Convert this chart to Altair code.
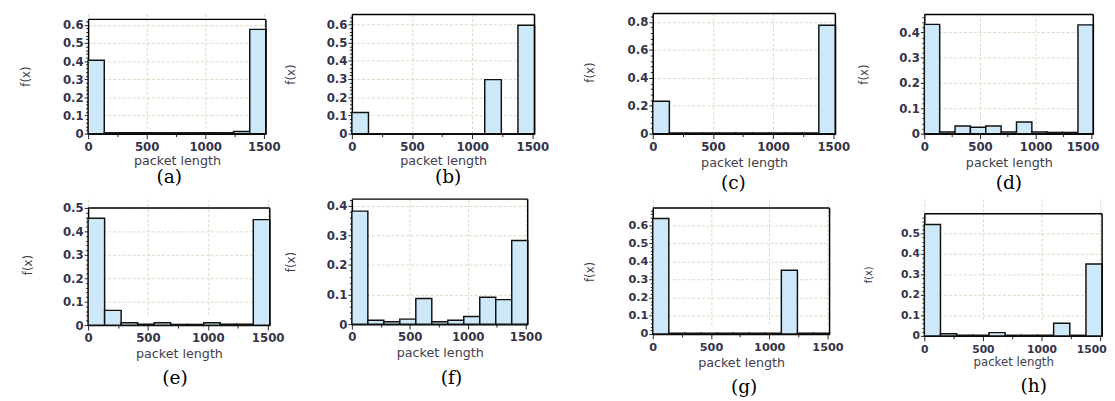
import altair as alt
import pandas as pd

# ---------------- data ----------------
bin_edges = [0, 138, 276, 414, 552, 690, 828, 966, 1104, 1242, 1380, 1518]

f_a = [0.405, 0.005, 0.005, 0.005, 0.005, 0.005, 0.005, 0.005, 0.005, 0.012, 0.575]
f_b = [0.116, 0.0, 0.0, 0.0, 0.0, 0.0, 0.0, 0.0, 0.297, 0.0, 0.596]
f_c = [0.232, 0.005, 0.005, 0.005, 0.005, 0.005, 0.005, 0.005, 0.005, 0.005, 0.776]
f_d = [0.432, 0.007, 0.030, 0.025, 0.030, 0.007, 0.046, 0.007, 0.005, 0.005, 0.430]
f_e = [0.456, 0.063, 0.010, 0.004, 0.010, 0.003, 0.003, 0.010, 0.004, 0.004, 0.450]
f_f = [0.382, 0.013, 0.008, 0.017, 0.087, 0.008, 0.013, 0.026, 0.091, 0.083, 0.283]
f_g = [0.637, 0.004, 0.004, 0.004, 0.004, 0.004, 0.004, 0.004, 0.351, 0.004, 0.004]
f_h = [0.545, 0.010, 0.003, 0.003, 0.016, 0.003, 0.003, 0.003, 0.062, 0.003, 0.351]

series = [f_a, f_b, f_c, f_d, f_e, f_f, f_g, f_h]
captions = ["(a)", "(b)", "(c)", "(d)", "(e)", "(f)", "(g)", "(h)"]
y_max = [0.63, 0.655, 0.86, 0.471, 0.50, 0.4226, 0.695, 0.597]
y_major = [0.1, 0.1, 0.2, 0.1, 0.1, 0.1, 0.1, 0.1]
x_tick_values = [0, 250, 500, 750, 1000, 1250, 1500]
x_max = 1518

# ---------------- layout / style ----------------
ROW1_H = 123
layout = [
    dict(w=182, h=ROW1_H, top=6, fx_x=-64, fx_y=64, xt_y=28, cdx=-8, coff=1, lfs=12, tfs=13, ffs=12, shift=0),
    dict(w=187, h=ROW1_H, top=1, fx_x=-63, fx_y=62, xt_y=28, cdx=5, coff=1, lfs=12, tfs=13, ffs=12, shift=0),
    dict(w=187, h=ROW1_H, top=0, fx_x=-65, fx_y=60, xt_y=30, cdx=-11, coff=5, lfs=12, tfs=13, ffs=12, shift=0),
    dict(w=173, h=ROW1_H, top=1, fx_x=-62, fx_y=62, xt_y=30, cdx=0, coff=5, lfs=12, tfs=13, ffs=12, shift=-9),
    dict(w=186, h=129, top=9, fx_x=-62, fx_y=67, xt_y=29, cdx=-4, coff=9, lfs=12, tfs=13, ffs=12, shift=0),
    dict(w=180, h=128, top=0, fx_x=-63, fx_y=64, xt_y=29, cdx=12, coff=10, lfs=12, tfs=13, ffs=12, shift=0),
    dict(w=181, h=138, top=9, fx_x=-65, fx_y=74, xt_y=29, cdx=3, coff=9, lfs=11.5, tfs=13, ffs=12, shift=0),
    dict(w=182, h=140, top=15, fx_x=-57, fx_y=77, xt_y=26, cdx=21, coff=10, lfs=11, tfs=12, ffs=10, shift=-9),
]
row1_gaps = [82, 84, 110, 91]
row2_gaps = [76, 83, 121, 87]
row_spacing = 67

BAR_FILL = "#cde8f9"
GRID = "#dcdac4"
LABEL_COLOR = "#34344a"
TITLE_COLOR = "#433d4c"


def panel(i):
    L = layout[i]
    vals = series[i]
    df = pd.DataFrame({"lo": bin_edges[:-1], "hi": bin_edges[1:], "f": vals,
                       "base": [0.0] * len(vals)})
    major = y_major[i]
    minor = major / 5
    ymax = y_max[i]
    nt = int(ymax / minor + 1e-9)
    y_vals = [round(k * minor, 4) for k in range(nt + 1)]
    is_major = f"abs(datum.value/{major} - round(datum.value/{major})) < 0.001"

    xs = alt.Scale(domain=[0, x_max], nice=False, zero=False)
    ys = alt.Scale(domain=[0, ymax], nice=False, zero=False, range=[L["h"], L["top"]])

    xaxis = alt.Axis(
        values=x_tick_values, tickCount=200,
        labelExpr="datum.value % 500 == 0 ? toString(datum.value) : ''",
        title="packet length",
        titleX=L["w"] / 2, titleY=L["xt_y"], titleBaseline="middle",
        titleFont="DejaVu Sans", titleFontSize=L["tfs"], titleFontWeight="normal",
        titleColor=TITLE_COLOR,
        labelFont="DejaVu Sans", labelFontWeight="bold",
        labelFontSize={"condition": {"test": "datum.value % 500 == 0", "value": L["lfs"]}, "value": 0},
        labelColor=LABEL_COLOR, labelPadding=3, labelFlush=False, labelOverlap=False,
        labelOffset={"condition": {"test": "datum.value == 1500", "value": L["shift"]}, "value": 0},
        tickSize={"condition": {"test": "datum.value % 500 == 0", "value": 5}, "value": 3},
        tickColor="#222", tickWidth=1,
        grid=True, gridColor=GRID, gridDash=[3, 2], gridWidth=1,
        gridOpacity={"condition": {"test": "datum.value % 500 == 0", "value": 1}, "value": 0},
        domainColor="black", domainWidth=1.5,
    )
    yaxis = alt.Axis(
        values=y_vals, tickCount=200,
        labelExpr=f"{is_major} ? (datum.value == 0 ? '0' : format(datum.value, '.1f')) : ''",
        title="f(x)",
        titleX=L["fx_x"], titleY=L["fx_y"], titleBaseline="middle", titleAngle=270,
        titleFont="DejaVu Sans", titleFontSize=L["ffs"], titleFontWeight="normal",
        titleColor=TITLE_COLOR,
        labelFont="DejaVu Sans", labelFontWeight="bold",
        labelFontSize={"condition": {"test": is_major, "value": L["lfs"]}, "value": 0},
        labelColor=LABEL_COLOR, labelPadding=1, labelFlush=False, labelOverlap=False,
        tickSize={"condition": {"test": is_major, "value": 4}, "value": 2.5},
        tickColor="#222", tickWidth=1,
        grid=True, gridColor=GRID, gridDash=[3, 2], gridWidth=1,
        gridOpacity={"condition": {"test": is_major, "value": 1}, "value": 0},
        domainColor="black", domainWidth=1.5,
    )

    bars = alt.Chart(df).mark_bar(fill=BAR_FILL, stroke="#111", strokeWidth=1.5).encode(
        x=alt.X("lo:Q", scale=xs, axis=xaxis),
        x2="hi:Q",
        y=alt.Y("f:Q", scale=ys, axis=yaxis),
        y2="base:Q",
    )
    one = pd.DataFrame({"k": [0]})
    top_rule = alt.Chart(one).mark_rule(color="black", strokeWidth=1.5).encode(
        x=alt.datum(0), x2=alt.datum(x_max), y=alt.datum(ymax)
    )
    right_rule = alt.Chart(one).mark_rule(color="black", strokeWidth=1.5).encode(
        x=alt.datum(x_max), y=alt.datum(0), y2=alt.datum(ymax)
    )
    return alt.layer(bars, top_rule, right_rule).properties(
        width=L["w"], height=L["h"],
        title=alt.TitleParams(
            captions[i], orient="bottom", font="DejaVu Serif", fontSize=19,
            fontWeight="normal", color="black", dx=L["cdx"], offset=L["coff"],
            baseline="top",
        ),
    )


def spacer(w, h):
    return alt.Chart(pd.DataFrame({"s": [0]})).mark_point(opacity=0, size=0).encode(
        x=alt.value(0), y=alt.value(0)
    ).properties(width=w, height=h)


cells = []
for r, gaps in enumerate([row1_gaps, row2_gaps]):
    for j in range(4):
        cells.append(spacer(gaps[j], ROW1_H if r == 0 else 1))
        cells.append(panel(r * 4 + j))

chart = alt.concat(
    *cells,
    columns=8,
    spacing={"row": row_spacing, "column": 0},
    bounds="flush",
    align="none",
).properties(padding=0).configure_view(stroke=None)

chart.save("out.html", embed_options={"renderer": "svg", "actions": False})
